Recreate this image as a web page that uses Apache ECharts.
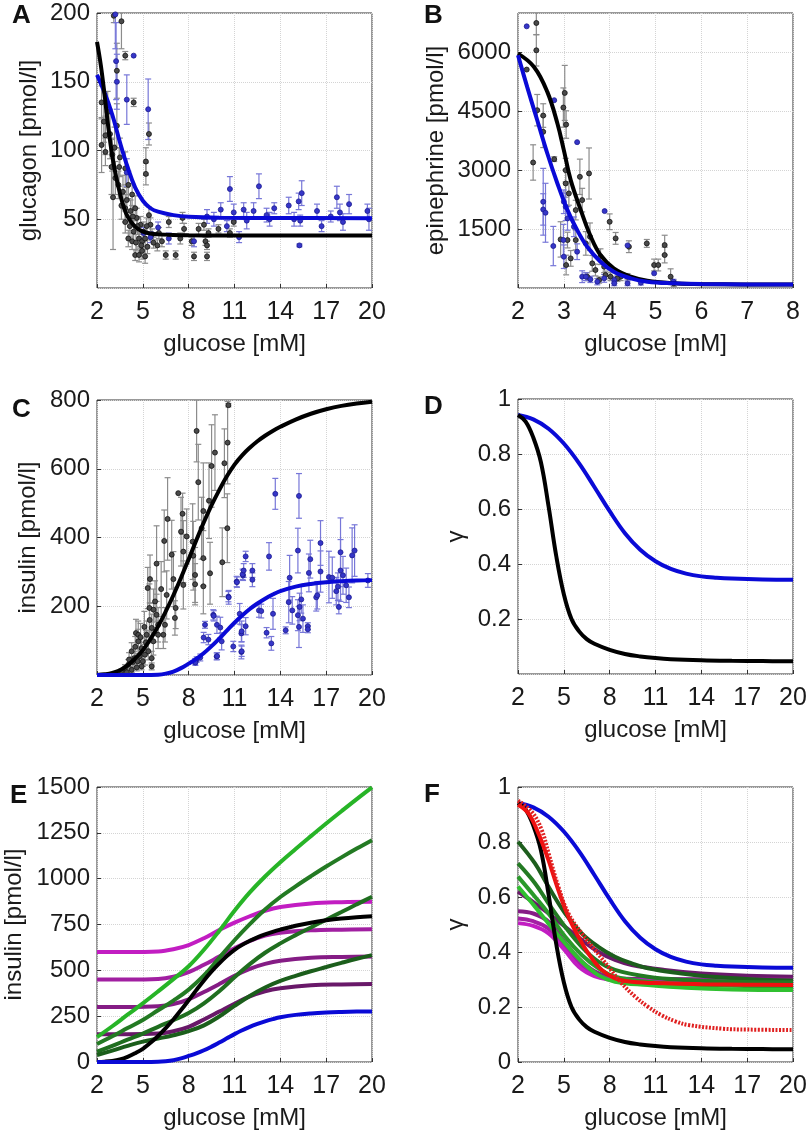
<!DOCTYPE html>
<html>
<head>
<meta charset="utf-8">
<script src="https://cdn.jsdelivr.net/npm/echarts@6/dist/echarts.min.js"></script>
<style>
  html, body { margin: 0; padding: 0; background: #fff; }
  #myCharts { width: 812px; height: 1137px; }
</style>
</head>
<body>
<div id="myCharts"></div>
<script>
// panel A: glucagon vs glucose, points [glucose, value, error]
const glucagonBlack = [
  [2.3,135,12],[2.45,121,15],[2.55,111,14],[2.3,104,20],[2.55,99,10],[3.0,97,12],[3.05,66,38],[3.1,198,5],
  [3.3,158,20],[3.6,194,20],[3.85,169,3],[4.4,135,3],[5.4,112,8],[5.2,92,10],[5.2,83,8],[3.2,80,12],
  [3.4,75,10],[3.85,87,12],[4.05,75,10],[4.3,68,8],[4.5,58,9],[3.85,58,10],[4.2,56,8],[4.6,51,7],
  [4.85,46,6],[5.05,41,7],[4.4,41,8],[4.75,36,6],[3.85,48,8],[4.05,36,6],[4.3,34,6],[4.5,24,4],
  [4.75,24,5],[4.95,27,6],[5.15,23,5],[4.95,34,5],[5.15,36,6],[5.4,53,6],[5.5,46,5],[5.6,39,4],
  [5.95,31,4],[6.25,34,4],[6.5,24,3],[6.7,48,4],[7.15,24,3],[7.45,36,4],[7.7,43,4],[7.6,51,4],
  [8.2,34,3],[8.35,23,3],[8.65,43,4],[9.0,46,4],[9.1,34,3],[9.2,31,3],[9.2,23,3],[9.3,40,3],
  [9.95,43,3],[10.7,40,3],[10.95,48,3],
  [2.7,128,15],[2.85,112,18],[2.95,88,20],[3.15,102,15],[3.5,95,14],[3.7,70,12],[3.6,60,10],[3.95,64,9],
  [4.15,45,8],[4.35,52,7],[4.55,33,6],[4.65,45,6],[4.9,31,5],[5.3,30,5],[5.25,45,6],[5.7,33,4],
  [6.05,40,4],[3.3,118,16],[3.45,88,14]
];
const glucagonBlue = [
  [3.2,199,25],[3.25,165,28],[3.3,150,20],[4.4,169,0],[3.95,137,18],[5.35,130,22],[3.95,84,10],[5.05,40,4],
  [5.5,37,4],[6.0,44,4],[6.7,36,4],[8.35,34,4],[9.2,52,5],[9.65,50,5],[10.1,57,5],[10.5,45,4],
  [10.7,72,9],[10.95,55,6],[11.3,37,4],[11.6,57,5],[11.8,49,6],[12.25,56,6],[12.6,74,9],[13.1,53,5],
  [13.3,50,5],[13.6,58,4],[14.55,60,6],[14.9,50,5],[15.2,63,6],[15.25,31,1],[15.4,69,9],[15.3,49,4],
  [16.4,56,5],[16.7,45,4],[17.3,52,4],[17.7,66,8],[17.9,55,6],[18.1,48,6],[18.5,61,7],[19.7,56,5],[19.8,50,8]
];
const glucagonFitBlack = [[2,179],[2.25,162],[2.5,140],[2.75,116],[3,96],[3.25,81],[3.5,69],[3.75,59],[4,52],[4.5,44.5],[5,41],[5.5,39.6],[6,39],[7,38.5],[8,38.3],[10,38.2],[14,38.2],[20,38.2]];
const glucagonFitBlue = [[2,155],[2.5,142],[3,126],[3.5,106],[4,88],[4.5,73],[5,63.5],[5.5,58],[6,55.5],[7,53],[8,51.8],[10,51.1],[14,50.9],[20,50.8]];

// panel B: epinephrine
const epiBlack = [
  [2.4,6746,300],[2.4,6051,400],[2.19,5560,0],[2.42,4526,400],[2.55,4390,300],[2.55,3975,400],[2.33,3195,450],
  [2.79,3280,60],[2.99,4593,500],[3.02,4966,700],[3.05,4161,350],[3.04,3000,300],[3.04,2661,350],[3.11,2407,300],
  [3.35,2830,450],[3.55,2915,650],[3.4,2237,300],[3.26,1983,250],[2.93,1237,450],[3.05,585,250],[3.08,1220,200],
  [3.15,754,200],[3.26,1220,250],[3.48,1135,300],[3.57,1305,350],[3.62,627,200],[3.69,458,150],[3.8,797,200],
  [4.0,1686,200],[3.88,542,150],[4.02,288,100],[4.13,1263,150],[4.24,288,100],[4.42,1051,150],[4.39,288,80],
  [4.81,1135,100],[4.97,585,150],[5.06,585,150],[5.2,1093,250],[5.2,839,200],[5.33,288,200],[5.4,119,80],
  [3.51,288,100],[3.77,203,80],[3.91,330,100],[4.17,246,80]
];
const epiBlue = [
  [2.19,6661,0],[2.79,4780,0],[3.29,3712,0],[3.89,1958,0],[2.55,2195,850],[2.55,2000,400],[2.6,1915,750],
  [2.77,1068,500],[3.0,2195,300],[3.04,2068,350],[3.0,797,300],[2.99,1220,400],[3.08,1771,300],[3.22,1559,250],
  [3.29,924,200],[3.4,288,150],[3.48,288,100],[3.58,220,80],[3.73,161,80],[3.88,246,100],[4.1,203,80],
  [4.1,119,60],[4.39,1085,0],[4.39,119,60],[4.68,136,60],[4.97,373,0],[5.39,161,60]
];
const epiFitBlack = [[2,5966],[2.35,5627],[2.64,4992],[2.86,4187],[3.0,3509],[3.15,2746],[3.37,1983],[3.59,1305],[3.8,839],[4.09,500],[4.46,288],[4.82,186],[5.4,119],[5.84,100],[6.5,94],[7.2,91],[8,90]];
const epiFitBlue = [[2,5924],[2.2,5119],[2.42,4271],[2.64,3424],[2.86,2661],[3.08,1983],[3.29,1475],[3.51,1051],[3.8,670],[4.09,415],[4.46,246],[4.82,161],[5.4,119],[6,100],[7,92],[8,90]];

// panel C: insulin
const insulinBlack = [
  [10.6,785,5],[8.52,710,90],[7.32,529,0],[10.55,676,120],[9.72,647,110],[10.34,616,100],[9.5,608,120],
  [8.63,561,110],[9.33,507,110],[8.96,477,140],[7.6,469,60],[6.4,390,90],[6.62,454,120],[7.5,417,100],
  [7.87,403,80],[8.26,388,110],[8.85,427,90],[6.89,350,100],[7.65,359,90],[8.3,347,100],[8.96,340,80],
  [9.4,296,90],[8.42,291,80],[7.65,262,70],[8.42,264,60],[8.96,258,80],[10.53,427,100],[10.2,328,100],
  [7.0,279,80],[6.56,233,70],[5.9,324,110],[5.47,279,70],[5.32,253,60],[5.8,214,60],[5.43,195,70],
  [5.9,175,60],[7.15,195,60],[7.1,166,50],[6.45,146,50],[6.34,117,40],[5.58,137,40],[5.25,117,40],
  [4.55,122,40],[4.7,98,35],[4.92,78,30],[5.14,59,30],[5.36,69,25],[5.58,49,20],[4.27,69,25],[4.44,49,20],
  [4.66,40,15],[4.05,30,15],[4.92,25,10],[5.58,25,10],[3.83,20,10],[4.27,15,8],[6.0,146,50],[5.69,98,40],
  [6.0,117,40],[4.7,117,40],
  [3.6,12,6],[4.1,45,20],[4.35,38,15],[4.5,82,30],[4.8,55,20],[5.0,40,15],[5.2,95,35],[5.45,160,50],
  [5.1,140,45],[4.6,22,10],[3.95,8,5],[4.85,110,40],[5.7,190,60],[6.2,250,80]
];
const insulinBlue = [
  [13.67,527,45],[15.22,521,65],[11.73,345,15],[11.56,290,15],[12.17,304,20],[12.17,277,20],[13.26,345,40],
  [14.61,283,65],[15.15,362,65],[15.96,337,55],[15.87,297,55],[16.63,384,65],[16.63,301,60],[16.35,226,40],
  [16.42,232,40],[17.18,285,75],[17.4,283,60],[17.94,357,100],[17.94,304,90],[18.1,290,55],[18.86,362,75],
  [18.7,348,80],[17.66,244,40],[17.77,257,40],[18.31,261,50],[18.49,226,30],[17.83,198,20],[19.73,275,20],
  [15.37,220,40],[15.26,198,40],[15.15,174,45],[15.22,140,60],[15.48,164,40],[15.8,142,10],[15.8,133,10],
  [14.78,188,40],[14.55,212,60],[14.35,130,10],[13.52,178,45],[13.41,92,20],[13.1,123,15],[12.6,188,20],
  [12.75,186,20],[11.34,178,30],[11.73,142,25],[11.45,121,25],[11.45,67,20],[11.53,293,15],[11.14,272,15],
  [10.6,228,15],[9.61,175,15],[9.07,146,10],[9.85,146,25],[9.29,103,15],[10.16,98,25],[9.83,54,10],
  [10.92,83,15],[11.47,69,15],[11.47,127,30],[8.52,45,8],[8.42,40,8],[9.64,172,15],[10.07,138,30],
  [8.98,109,15],[8.44,36,8],[8.76,51,10],[9.86,55,10],[10.62,226,20],[11.16,270,15],[11.6,304,20]
];
const insulinFitBlack = [[2,0],[2.5,2],[3,6],[3.5,14],[4,28],[4.5,48],[5,72],[5.5,105],[6,142],[6.5,185],[7,232],[7.5,283],[8,337],[8.5,392],[9,445],[9.5,494],[10,538],[10.5,578],[11,612],[11.5,639],[12,661],[12.5,680],[13,696],[13.5,710],[14,722],[15,743],[16,760],[17,773],[18,783],[19,790],[20,795]];
const insulinFitBlue = [[2,0],[5,0],[6,1],[6.5,4],[7,10],[7.5,20],[8,33],[8.5,47],[9,64],[9.5,84],[10,106],[10.5,129],[11,152],[11.5,173],[12,192],[12.5,208],[13,222],[13.5,234],[14,244],[15,257],[16,265],[17,270],[18,273],[19,275],[20,276]];

// panel D: gamma
const gammaBlack = [[2,0.942],[2.5,0.918],[3,0.86],[3.5,0.77],[4,0.61],[4.5,0.43],[5,0.29],[5.5,0.2],[6,0.155],[6.5,0.127],[7,0.11],[8,0.088],[9,0.073],[10,0.064],[11,0.058],[12,0.054],[14,0.05],[16,0.048],[18,0.047],[20,0.046]];
const gammaBlue = [[2,0.942],[3,0.926],[4,0.892],[5,0.838],[6,0.766],[7,0.68],[8,0.592],[9,0.512],[10,0.452],[11,0.41],[12,0.382],[13,0.365],[14,0.355],[15,0.35],[16,0.347],[18,0.344],[20,0.343]];

// panel E: insulin model curves
const insMag600 = [[2,600],[4,600],[6,603],[7,615],[8,638],[9,675],[10,720],[11,760],[12,795],[13,825],[14,845],[16,865],[18,872],[20,874]];
const insMag450 = [[2,450],[4,450],[6,453],[7,465],[8,490],[9,530],[10,575],[11,620],[12,660],[13,690],[14,705],[16,718],[18,722],[20,724]];
const insMag300 = [[2,300],[4,300],[6,304],[7,316],[8,342],[9,382],[10,425],[11,470],[12,508],[13,535],[14,552],[16,568],[18,573],[20,575]];
const insMag150 = [[2,152],[4,152],[6,155],[7,168],[8,192],[9,232],[10,275],[11,318],[12,358],[13,386],[14,402],[16,418],[18,423],[20,425]];
const insGreen1 = [[2,136],[3,195],[4,258],[5,320],[6,385],[7,452],[8,522],[9,612],[10,715],[11,825],[12,925],[13,1012],[14,1090],[15,1162],[16,1232],[17,1301],[18,1368],[19,1434],[20,1498]];
const insGreen2 = [[2,98],[3,140],[4,185],[5,229],[6,282],[7,335],[8,395],[9,472],[10,568],[11,664],[12,752],[13,832],[14,900],[15,958],[16,1013],[17,1066],[18,1116],[19,1164],[20,1210]];
const insGreen3 = [[2,56],[3,88],[4,122],[5,155],[6,192],[7,228],[8,267],[9,320],[10,386],[11,462],[12,534],[13,596],[14,647],[15,692],[16,734],[17,776],[18,818],[19,860],[20,901]];
const insGreen4 = [[2,38],[3,62],[4,88],[5,111],[6,128],[7,146],[8,168],[9,200],[10,248],[11,306],[12,360],[13,406],[14,442],[15,470],[16,495],[17,518],[18,541],[19,563],[20,583]];

// panel F: gamma model curves
const gamRed = [[2,0.935],[2.68,0.904],[3.33,0.832],[3.99,0.735],[4.64,0.625],[5.3,0.528],[5.95,0.456],[6.6,0.395],[7.48,0.335],[8.35,0.304],[9.44,0.292],[11.6,0.286],[14,0.283],[17,0.281],[20,0.28]];
const gamRedDot = [[2,0.95],[2.9,0.91],[3.55,0.844],[4.0,0.759],[4.64,0.638],[5.3,0.54],[6.17,0.468],[7.04,0.407],[7.91,0.347],[8.79,0.286],[9.66,0.238],[10.53,0.2],[11.4,0.17],[12.3,0.148],[13.2,0.134],[15.4,0.121],[17,0.118],[20,0.116]];
const gamGreen1 = [[2,0.801],[3.11,0.722],[3.99,0.638],[5.08,0.541],[6.17,0.468],[7.26,0.419],[8.35,0.383],[9.44,0.359],[10.5,0.341],[12.7,0.322],[14.3,0.312],[17,0.302],[20,0.296]];
const gamGreen2 = [[2,0.722],[3.11,0.65],[3.99,0.577],[5.08,0.492],[6.17,0.419],[7.26,0.365],[8.35,0.335],[10.5,0.31],[13,0.298],[16,0.292],[20,0.29]];
const gamGreen3 = [[2,0.674],[3.11,0.601],[3.99,0.541],[5.08,0.456],[6.17,0.389],[7.26,0.341],[8.35,0.31],[10.5,0.292],[13,0.282],[16,0.277],[20,0.275]];
const gamGreen4 = [[2,0.638],[3.11,0.565],[3.99,0.504],[5.08,0.432],[6.17,0.365],[7.26,0.316],[8.35,0.292],[10.5,0.28],[13,0.27],[16,0.264],[20,0.262]];
const gamPurple1 = [[2,0.62],[3.11,0.577],[3.99,0.541],[5.08,0.492],[6.17,0.444],[7.26,0.401],[8.35,0.371],[9.44,0.353],[11.6,0.335],[14,0.322],[17,0.314],[20,0.31]];
const gamPurple2 = [[2,0.548],[3,0.54],[4,0.51],[5,0.44],[6,0.375],[7,0.33],[8,0.308],[9,0.303],[11,0.302],[20,0.3]];
const gamPurple3 = [[2,0.522],[3,0.512],[4,0.485],[5,0.425],[6,0.36],[7,0.32],[8,0.303],[9,0.299],[11,0.298],[20,0.297]];
const gamPurple4 = [[2,0.505],[3,0.495],[4,0.468],[5,0.41],[6,0.345],[7,0.312],[8,0.3],[9,0.297],[11,0.296],[20,0.295]];

const FONT = "Liberation Sans";
const TXT = "#1a1a1a";
const BLUE = "#0a0ad6";

const myCharts = echarts.init(document.getElementById("myCharts"));

function makeGrid(left, top) {
  return { left: left, top: top, width: 275, height: 275, show: true, borderColor: "#333", borderWidth: 1,
    backgroundColor: "#fff", containLabel: false, outerBoundsMode: "none" };
}

function makeX(gi, max, interval) {
  return {
    type: "value", gridIndex: gi, min: 2, max: max, interval: interval,
    name: "glucose [mM]", nameLocation: "middle", nameGap: 44,
    nameTextStyle: { fontSize: 24, color: TXT, fontFamily: FONT },
    axisLine: { show: false },
    axisTick: { inside: true, length: 4, lineStyle: { color: "#333" } },
    axisLabel: { fontSize: 25, margin: 12, color: TXT, fontFamily: FONT,
      formatter: function (v) { return String(v); } },
    splitLine: { lineStyle: { color: "#d4d4d4", type: "dotted" } }
  };
}

function makeY(gi, max, interval, name, gap, hideMin, hideMax) {
  return {
    type: "value", gridIndex: gi, min: 0, max: max, interval: interval,
    name: name, nameLocation: "middle", nameGap: gap,
    nameTextStyle: { fontSize: 24, color: TXT, fontFamily: FONT },
    axisLine: { show: false },
    axisTick: { inside: true, length: 4, lineStyle: { color: "#333" } },
    axisLabel: { fontSize: 24, margin: 7, color: TXT, fontFamily: FONT,
      showMinLabel: !hideMin, showMaxLabel: !hideMax,
      formatter: function (v) { return String(v); } },
    splitLine: { lineStyle: { color: "#d4d4d4", type: "dotted" } }
  };
}

function curve(gi, data, color, width, dash) {
  return {
    type: "line", xAxisIndex: gi, yAxisIndex: gi, data: data, showSymbol: false,
    smooth: 0.4, silent: true, z: 4,
    lineStyle: { color: color, width: width || 4, type: dash || "solid", cap: "butt" }
  };
}

function errBars(gi, data, color) {
  return {
    type: "custom", xAxisIndex: gi, yAxisIndex: gi, data: data, clip: true, silent: true, z: 2,
    encode: { x: 0, y: 1 },
    renderItem: function (params, api) {
      const x = api.value(0), y = api.value(1), e = api.value(2);
      if (!e) return { type: "group", children: [] };
      const lo = api.coord([x, y - e]);
      const hi = api.coord([x, y + e]);
      const w = 3;
      const st = { stroke: color, lineWidth: 1.2 };
      return { type: "group", children: [
        { type: "line", shape: { x1: lo[0], y1: lo[1], x2: hi[0], y2: hi[1] }, style: st },
        { type: "line", shape: { x1: lo[0] - w, y1: lo[1], x2: lo[0] + w, y2: lo[1] }, style: st },
        { type: "line", shape: { x1: hi[0] - w, y1: hi[1], x2: hi[0] + w, y2: hi[1] }, style: st }
      ] };
    }
  };
}

function dots(gi, data, fill, border) {
  return {
    type: "scatter", xAxisIndex: gi, yAxisIndex: gi, silent: true, z: 3,
    data: data.map(function (d) { return [d[0], d[1]]; }),
    symbolSize: 5, itemStyle: { color: fill, borderColor: border, borderWidth: 0.8, opacity: 1 }
  };
}

function letter(t, left, top) {
  return { text: t, left: left, top: top, padding: 0,
    textStyle: { fontSize: 26, fontWeight: "bold", color: "#111", fontFamily: FONT } };
}

let option = {
  backgroundColor: "#fff",
  animation: false,
  title: [letter("A", 12, 3), letter("B", 424, 3), letter("C", 12, 397), letter("D", 424, 394), letter("E", 10, 783), letter("F", 424, 782)],
  grid: [makeGrid(97, 13), makeGrid(518, 13), makeGrid(97, 400), makeGrid(518, 399), makeGrid(97, 787), makeGrid(518, 787)],
  xAxis: [makeX(0, 20, 3), makeX(1, 8, 1), makeX(2, 20, 3), makeX(3, 20, 3), makeX(4, 20, 3), makeX(5, 20, 3)],
  yAxis: [
    makeY(0, 200, 50, "glucagon [pmol/l]", 56, true, false),
    makeY(1, 7000, 1500, "epinephrine [pmol/l]", 70, true, true),
    makeY(2, 800, 200, "insulin [pmol/l]", 57, true, false),
    makeY(3, 1, 0.2, "γ", 50, true, false),
    makeY(4, 1500, 250, "insulin [pmol/l]", 71, false, false),
    makeY(5, 1, 0.2, "γ", 50, false, false)
  ],
  series: [
    // A
    errBars(0, glucagonBlack, "#8c8c8c"), errBars(0, glucagonBlue, "#7777d8"),
    dots(0, glucagonBlack, "#4a4a4a", "#111"), dots(0, glucagonBlue, "#3636c8", "#1c1c90"),
    curve(0, glucagonFitBlue, BLUE), curve(0, glucagonFitBlack, "#000"),
    // B
    errBars(1, epiBlack, "#8c8c8c"), errBars(1, epiBlue, "#7777d8"),
    dots(1, epiBlack, "#4a4a4a", "#111"), dots(1, epiBlue, "#3636c8", "#1c1c90"),
    curve(1, epiFitBlack, "#000"), curve(1, epiFitBlue, BLUE),
    // C
    errBars(2, insulinBlack, "#8c8c8c"), errBars(2, insulinBlue, "#7777d8"),
    dots(2, insulinBlack, "#4a4a4a", "#111"), dots(2, insulinBlue, "#3636c8", "#1c1c90"),
    curve(2, insulinFitBlack, "#000"), curve(2, insulinFitBlue, BLUE),
    // D
    curve(3, gammaBlue, BLUE), curve(3, gammaBlack, "#000"),
    // E
    curve(4, insMag600, "#c21dc2"), curve(4, insMag450, "#a11fa1"), curve(4, insMag300, "#851c85"), curve(4, insMag150, "#691869"),
    curve(4, insGreen1, "#27b427"), curve(4, insGreen2, "#237a23"), curve(4, insGreen3, "#1f6e1f"), curve(4, insGreen4, "#1b5e1b"),
    curve(4, insulinFitBlack, "#000"), curve(4, insulinFitBlue, BLUE),
    // F
    curve(5, gamPurple1, "#6a196a"), curve(5, gamPurple2, "#861c86"), curve(5, gamPurple3, "#a41fa4"), curve(5, gamPurple4, "#c21dc2"),
    curve(5, gamGreen1, "#1d5e1d"), curve(5, gamGreen2, "#237a23"), curve(5, gamGreen3, "#2a9a2a"), curve(5, gamGreen4, "#30c030"),
    curve(5, gammaBlue, BLUE), curve(5, gammaBlack, "#000"),
    curve(5, gamRed, "#f01010"), curve(5, gamRedDot, "#e02020", 4, [2, 1.5])
  ]
};
myCharts.setOption(option);
</script>
</body>
</html>
